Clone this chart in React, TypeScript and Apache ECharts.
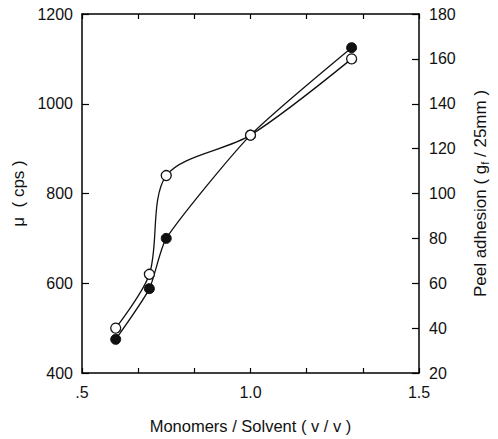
import React, { useEffect, useRef } from "react";
import * as echarts from "echarts";

const xValues = [0.6, 0.7, 0.75, 1.0, 1.3];
const viscosity = [475, 588, 700, 930, 1125]; // filled circles, left axis
const peel = [40, 64, 108, 126, 160]; // open circles, right axis

const FONT = "Liberation Sans";

export default function App() {
  const ref = useRef<HTMLDivElement>(null);
  useEffect(() => {
    const chart = echarts.init(ref.current!, null, { renderer: "svg" });
    const axisLine = { show: true, lineStyle: { color: "#000", width: 1.5 } };
    const label = { color: "#111", fontFamily: FONT, fontSize: 16 };
    const xFmt = (v: number) => {
      if (Math.abs(v * 2 - Math.round(v * 2)) > 1e-6) return "";
      if (Math.abs(v - 0.5) < 1e-6) return ".5";
      return v.toFixed(1);
    };
    const plain = (v: number) => String(Math.round(v));
    chart.setOption({
      animation: false,
      grid: { left: 82, right: 74, top: 14, bottom: 63 },
      xAxis: [
        {
          type: "value",
          min: 0.5,
          max: 1.5,
          interval: 1 / 6,
          position: "bottom",
          axisLine,
          axisTick: { show: true, inside: true, length: 5, lineStyle: { color: "#000", width: 1.2 } },
          axisLabel: { ...label, formatter: xFmt, margin: 11, showMinLabel: true, showMaxLabel: true },
          splitLine: { show: false },
          name: "Monomers / Solvent ( v / v )",
          nameLocation: "middle",
          nameGap: 44,
          nameTextStyle: { color: "#111", fontFamily: FONT, fontSize: 16.5 },
        },
        {
          type: "value",
          min: 0.5,
          max: 1.5,
          interval: 1 / 6,
          position: "top",
          axisLine,
          axisTick: { show: true, inside: true, length: 5, lineStyle: { color: "#000", width: 1.2 } },
          axisLabel: { show: false },
          splitLine: { show: false },
        },
      ],
      yAxis: [
        {
          type: "value",
          min: 400,
          max: 1200,
          interval: 200,
          position: "left",
          axisLine,
          axisTick: { show: true, inside: true, length: 7, lineStyle: { color: "#000", width: 1.2 } },
          axisLabel: { ...label, margin: 9, formatter: plain },
          splitLine: { show: false },
          name: "μ  ( cps )",
          nameLocation: "middle",
          nameRotate: 90,
          nameGap: 49,
          nameTextStyle: { color: "#111", fontFamily: FONT, fontSize: 17 },
        },
        {
          type: "value",
          min: 20,
          max: 180,
          interval: 20,
          position: "right",
          axisLine,
          axisTick: { show: true, inside: true, length: 7, lineStyle: { color: "#000", width: 1.2 } },
          axisLabel: { ...label, margin: 10, formatter: plain },
          splitLine: { show: false },
          name: "{a|Peel adhesion ( g}{s|f}{a| / 25mm )}",
          nameLocation: "middle",
          nameRotate: 90,
          nameGap: 51,
          nameTextStyle: {
            color: "#111",
            fontFamily: FONT,
            fontSize: 17,
            rich: {
              a: { color: "#111", fontFamily: FONT, fontSize: 17, lineHeight: 20 },
              s: { color: "#111", fontFamily: FONT, fontSize: 11, lineHeight: 11, verticalAlign: "bottom" },
            },
          },
        },
      ],
      series: [
        {
          type: "line",
          xAxisIndex: 0,
          yAxisIndex: 0,
          data: xValues.map((x, i) => [x, viscosity[i]]),
          smooth: 0.2,
          symbol: "circle",
          symbolSize: 10,
          lineStyle: { color: "#111", width: 1.3 },
          itemStyle: { color: "#111", borderColor: "#111", borderWidth: 1 },
          z: 3,
        },
        {
          type: "line",
          xAxisIndex: 0,
          yAxisIndex: 1,
          data: xValues.map((x, i) => [x, peel[i]]),
          smooth: 0.3,
          symbol: "circle",
          symbolSize: 10,
          lineStyle: { color: "#111", width: 1.3 },
          itemStyle: { color: "#fff", borderColor: "#111", borderWidth: 1.3 },
          z: 4,
        },
      ],
    });
    return () => chart.dispose();
  }, []);
  return (
    <div
      ref={ref}
      style={{ position: "fixed", left: 0, top: 0, width: 498, height: 439, background: "#fff" }}
    />
  );
}
